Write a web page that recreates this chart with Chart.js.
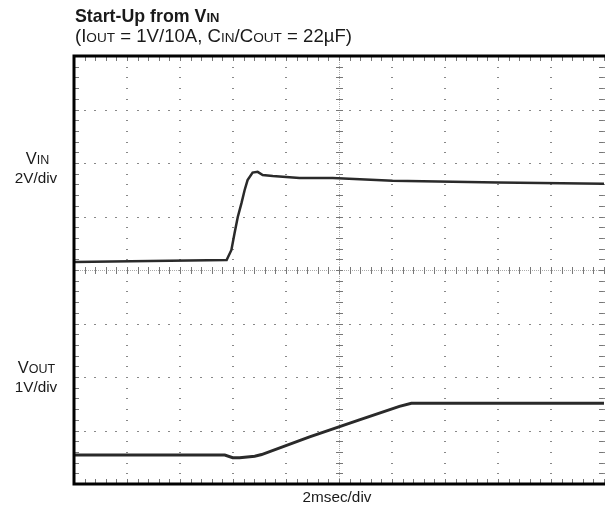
<!DOCTYPE html>
<html>
<head>
<meta charset="utf-8">
<script src="https://cdn.jsdelivr.net/npm/chart.js@4/dist/chart.umd.min.js"></script>
<style>
  html, body { margin: 0; padding: 0; background: #fff; overflow: hidden; }
  canvas { display: block; }
</style>
</head>
<body>
<canvas id="scope" width="605" height="508"></canvas>
<script>
// time in ms (2 ms/div, 10 div), volts
const vinTime  = [0, 5.76, 5.94, 6.06, 6.18, 6.32, 6.44, 6.55, 6.74, 6.93, 7.12, 7.50, 8.51, 9.76, 12.02, 16.0, 20];
const vinVolts = [0, 0.07, 0.45, 1.08, 1.68, 2.20, 2.69, 3.06, 3.34, 3.37, 3.25, 3.21, 3.14, 3.14, 3.04, 2.97, 2.92];

const voutTime  = [0, 5.69, 5.99, 6.25, 6.82, 7.08, 8.89, 10.77, 12.28, 12.73, 14.0, 20];
const voutVolts = [0, 0, -0.05, -0.05, -0.02, 0.01, 0.34, 0.66, 0.91, 0.97, 0.97, 0.97];

// channel settings: ground level (div from bottom) and volts per div
const vinGround = 4.15, vinScale = 2;
const voutGround = 0.54, voutScale = 1;

const toPoints = (t, v, gnd, scale) => t.map((x, i) => ({ x: x, y: gnd + v[i] / scale }));

const FONT = '"Liberation Sans", Arial, Helvetica, sans-serif';

// text made of pieces of different size (small caps subscripts)
function drawPieces(ctx, pieces, x, y, align) {
    let total = 0;
    pieces.forEach(p => {
        ctx.font = (p[2] ? 'bold ' : '') + p[1] + 'px ' + FONT;
        total += ctx.measureText(p[0]).width;
    });
    let cx = align === 'center' ? x - total / 2 : x;
    ctx.textAlign = 'left';
    ctx.textBaseline = 'alphabetic';
    pieces.forEach(p => {
        ctx.font = (p[2] ? 'bold ' : '') + p[1] + 'px ' + FONT;
        ctx.fillText(p[0], cx, y);
        cx += ctx.measureText(p[0]).width;
    });
}

const graticule = {
    id: 'graticule',
    beforeDatasetsDraw(chart) {
        const ctx = chart.ctx, xs = chart.scales.x, ys = chart.scales.y;
        const a = chart.chartArea;
        ctx.save();
        ctx.fillStyle = '#888';
        // dotted division lines
        for (let i = 1; i <= 10; i++) {
            if (i === 5) continue;
            const px = Math.round(xs.getPixelForValue(i * 2));
            for (let j = 1; j < 40; j++) {
                const py = Math.round(ys.getPixelForValue(j * 0.2));
                ctx.fillRect(px - 1, py, 2, 1);
            }
        }
        for (let i = 1; i < 8; i++) {
            if (i === 4) continue;
            const py = Math.round(ys.getPixelForValue(i));
            for (let j = 1; j <= 50; j++) {
                const px = Math.round(xs.getPixelForValue(j * 0.4));
                ctx.fillRect(px - 1, py, 2, 1);
            }
        }
        // centre axes, fine dotted with minor ticks
        const cx = Math.round(xs.getPixelForValue(10));
        const cy = Math.round(ys.getPixelForValue(4));
        ctx.fillStyle = '#aaa';
        for (let y = a.top; y < a.bottom; y += 2) ctx.fillRect(cx, y, 1, 1);
        for (let x = a.left; x < a.right; x += 2) ctx.fillRect(x, cy, 1, 1);
        ctx.fillStyle = '#777';
        for (let j = 1; j < 40; j++) {
            const py = Math.round(ys.getPixelForValue(j * 0.2));
            ctx.fillRect(cx - 3, py, 7, 1);
        }
        for (let j = 1; j <= 50; j++) {
            const px = Math.round(xs.getPixelForValue(j * 0.4));
            ctx.fillRect(px, cy - 3, 1, 7);
        }
        // minor ticks on the frame
        for (let j = 1; j <= 50; j++) {
            const px = Math.round(xs.getPixelForValue(j * 0.4));
            ctx.fillRect(px, a.top + 1, 1, 4);
            ctx.fillRect(px, a.bottom - 5, 1, 4);
        }
        for (let j = 1; j < 40; j++) {
            const py = Math.round(ys.getPixelForValue(j * 0.2));
            ctx.fillRect(a.left + 1, py, 4, 1);
            ctx.fillRect(a.right - 5, py, 4, 1);
        }
        ctx.restore();
    },
    afterDatasetsDraw(chart) {
        const ctx = chart.ctx, a = chart.chartArea;
        ctx.save();
        ctx.strokeStyle = '#000';
        ctx.lineWidth = 3;
        ctx.beginPath();
        ctx.moveTo(a.right + 2, a.top);
        ctx.lineTo(a.left, a.top);
        ctx.lineTo(a.left, a.bottom);
        ctx.lineTo(a.right + 2, a.bottom);
        ctx.stroke();

        ctx.fillStyle = '#1a1a1a';
        drawPieces(ctx, [['Start-Up from V', 17.8, true], ['IN', 13, true]], 75, 22);
        drawPieces(ctx, [['(I', 18.6], ['OUT', 13.6], [' = 1V/10A, C', 18.6], ['IN', 13.6],
                         ['/C', 18.6], ['OUT', 13.6], [' = 22µF)', 18.6]], 75, 42);

        drawPieces(ctx, [['V', 16.5], ['IN', 12.5]], 37.5, 164, 'center');
        drawPieces(ctx, [['2V/div', 15.3]], 36, 183, 'center');
        drawPieces(ctx, [['V', 16.5], ['OUT', 12.5]], 36.5, 373, 'center');
        drawPieces(ctx, [['1V/div', 15.3]], 36, 392, 'center');
        drawPieces(ctx, [['2msec/div', 15.3]], 337, 502, 'center');
        ctx.restore();
    }
};

new Chart(document.getElementById('scope'), {
    type: 'line',
    data: {
        datasets: [{
            label: 'VIN',
            data: toPoints(vinTime, vinVolts, vinGround, vinScale),
            borderColor: '#2a2a2a',
            borderWidth: 2.5,
            pointRadius: 0,
            tension: 0
        }, {
            label: 'VOUT',
            data: toPoints(voutTime, voutVolts, voutGround, voutScale),
            borderColor: '#2a2a2a',
            borderWidth: 3,
            pointRadius: 0,
            tension: 0
        }]
    },
    options: {
        responsive: false,
        animation: false,
        devicePixelRatio: 1,
        layout: { padding: { left: 74, top: 56, right: 1, bottom: 24 } },
        plugins: { legend: { display: false }, tooltip: { enabled: false } },
        scales: {
            x: { type: 'linear', min: 0, max: 20, display: false },
            y: { type: 'linear', min: 0, max: 8, display: false }
        }
    },
    plugins: [graticule]
});
</script>
</body>
</html>
